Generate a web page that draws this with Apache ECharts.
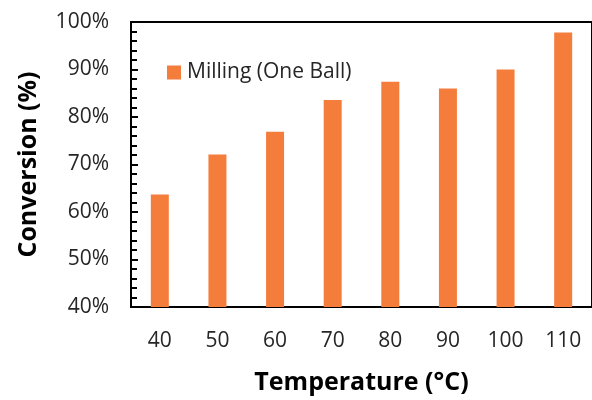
<!DOCTYPE html>
<html>
<head>
<meta charset="utf-8">
<script src="https://cdn.jsdelivr.net/npm/echarts@6/dist/echarts.min.js"></script>
<style>html,body{margin:0;padding:0;background:#fff}#c{width:592px;height:400px}</style>
</head>
<body>
<div id="c"></div>
<script>
const categories = ['40', '50', '60', '70', '80', '90', '100', '110'];
const conversion = [63.7, 72.1, 76.9, 83.6, 87.4, 86.0, 90.0, 97.8];
const seriesName = 'Milling (One Ball)';
const xTitle = 'Temperature (°C)';
const yTitle = 'Conversion (%)';

const chart = echarts.init(document.getElementById('c'), null, {renderer: 'canvas'});
chart.setOption({
  animation: false,
  textStyle: {fontFamily: 'Open Sans'},
  grid: {left: 131, top: 22, bottom: 92, right: -7, show: true, borderColor: '#000', borderWidth: 2, backgroundColor: 'transparent'},
  legend: {
    left: 162, top: 57, icon: 'rect', itemWidth: 14, itemHeight: 14, itemGap: 6,
    textStyle: {fontSize: 21, color: '#262626', fontFamily: 'Open Sans', padding: [0, 0, 0, 1]},
    data: [seriesName]
  },
  xAxis: {
    type: 'category', data: categories,
    axisLine: {lineStyle: {color: '#000', width: 2}},
    axisTick: {show: false},
    axisLabel: {fontSize: 21, color: '#262626', margin: 24, fontFamily: 'Open Sans'},
    name: xTitle, nameLocation: 'middle', nameGap: 63,
    nameTextStyle: {fontSize: 25, fontWeight: 'bold', color: '#000', fontFamily: 'Open Sans'}
  },
  yAxis: {
    type: 'value', min: 40, max: 100, interval: 10,
    axisLine: {show: true, lineStyle: {color: '#000', width: 2}},
    axisTick: {show: true, inside: true, length: 7, lineStyle: {color: '#000', width: 2}},
    minorTick: {show: true, splitNumber: 5, length: 6, lineStyle: {color: '#000', width: 2}},
    splitLine: {show: false},
    axisLabel: {fontSize: 21, color: '#262626', margin: 22, formatter: v => v + '%', fontFamily: 'Open Sans'},
    name: yTitle, nameLocation: 'middle', nameGap: 90,
    nameTextStyle: {fontSize: 25, fontWeight: 'bold', color: '#000', fontFamily: 'Open Sans'}
  },
  series: [{
    name: seriesName, type: 'bar', data: conversion, barWidth: 18,
    itemStyle: {color: '#F57D3C'}
  }]
});
</script>
</body>
</html>
